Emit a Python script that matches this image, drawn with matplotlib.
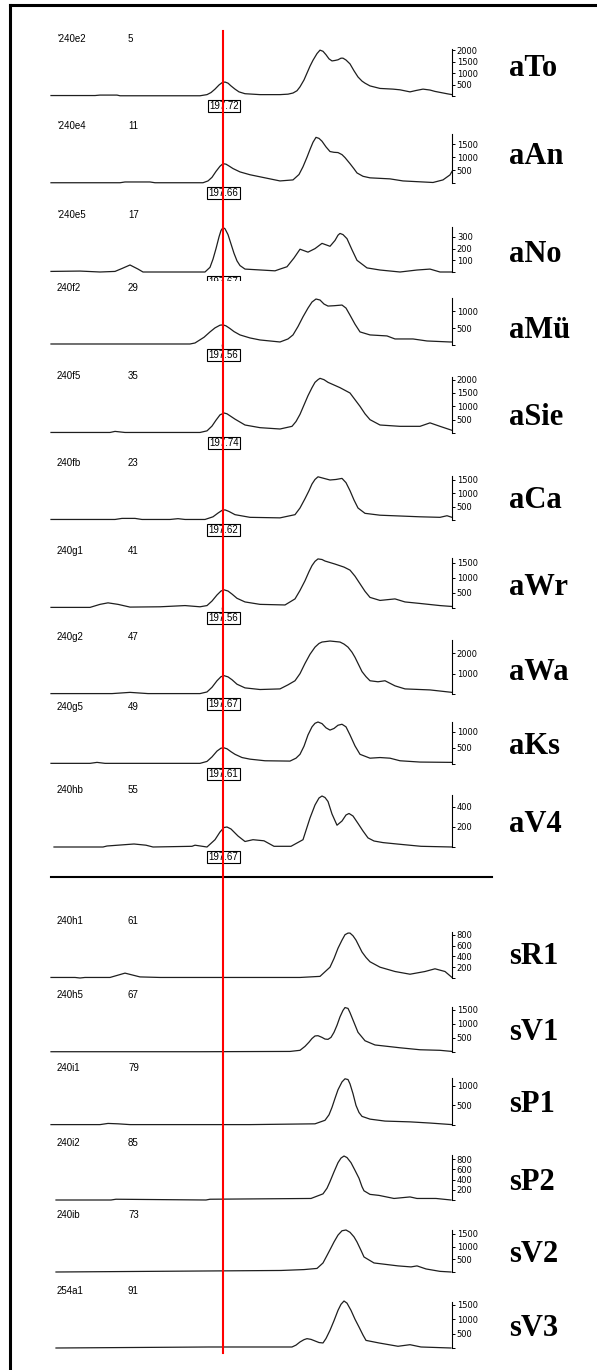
import matplotlib.pyplot as plt
from matplotlib.lines import Line2D
from matplotlib.transforms import Bbox, TransformedBbox

plt.rcParams['font.family'] = ['Liberation Sans', 'DejaVu Sans']

# --- data (x = fragment size in bp, y = signal) ---
names = ['aTo', 'aAn', 'aNo', 'aMü', 'aSie', 'aCa', 'aWr', 'aWa', 'aKs', 'aV4',
         'sR1', 'sV1', 'sP1', 'sP2', 'sV2', 'sV3']
samples = ["'240e2", "'240e4", "'240e5", '240f2', '240f5', '240fb', '240g1', '240g2',
           '240g5', '240hb', '240h1', '240h5', '240i1', '240i2', '240ib', '254a1']
lanes = ['5', '11', '17', '29', '35', '23', '41', '47', '49', '55',
         '61', '67', '79', '85', '73', '91']
peak_sizes = [197.72, 197.66, 197.67, 197.56, 197.74, 197.62, 197.56, 197.67, 197.61, 197.67,
              None, None, None, None, None, None]
marker_size = 197.67

y_max = [2050, 1900, 385, 1400, 2100, 1650, 1650, 2650, 1300, 520,
         850, 1600, 1200, 880, 1650, 1600]
y_ticks = [[500, 1000, 1500, 2000], [500, 1000, 1500], [100, 200, 300], [500, 1000],
           [500, 1000, 1500, 2000], [500, 1000, 1500], [500, 1000, 1500], [1000, 2000],
           [500, 1000], [200, 400], [200, 400, 600, 800], [500, 1000, 1500], [500, 1000],
           [200, 400, 600, 800], [500, 1000, 1500], [500, 1000, 1500]]

x_aTo = [154.75, 165.75, 167, 171.25, 172, 192, 193.75, 194.75, 195.75, 196.75, 197.5, 198.25, 199,
         199.75, 200.75, 201.75, 203.25, 207, 212, 214, 215.25, 216.25, 217, 218, 218.75, 219.5,
         220.25, 221.25, 222, 222.75, 223.5, 224.25, 225, 225.75, 226.5, 227.25, 227.75, 228.5,
         229.5, 230.5, 231.5, 232.5, 233.25, 234.5, 237, 240.25, 242, 244.5, 246, 247.75, 249.5,
         250.75, 254, 255]
y_aTo = [20, 20, 40, 40, 10, 10, 60, 150, 300, 480, 580, 610, 560, 440, 300, 180, 100, 60, 60, 80,
         130, 230, 400, 700, 1000, 1300, 1560, 1850, 2000, 1950, 1800, 1620, 1530, 1550, 1580, 1650,
         1650, 1570, 1400, 1100, 830, 650, 560, 440, 330, 300, 270, 180, 240, 300, 260, 200, 90, 60]

x_aAn = [154.75, 172, 173.25, 179.5, 180.75, 192.75, 194, 195, 196, 197, 197.75, 198.5, 199.25,
         200.25, 202, 204.5, 207, 212, 215.25, 216.75, 217.75, 218.75, 219.5, 220.25, 221, 221.75,
         222.5, 223.5, 224.5, 225.5, 226.5, 227.5, 228.25, 229.5, 230.5, 231.25, 232.75, 234.5,
         239.5, 242.75, 247.75, 250.25, 252.75, 254.5, 255]
y_aAn = [10, 10, 40, 40, 10, 10, 80, 220, 450, 650, 750, 730, 660, 560, 430, 320, 240, 80, 120,
         330, 630, 1000, 1300, 1580, 1770, 1730, 1620, 1400, 1220, 1190, 1180, 1100, 985, 750, 550,
         390, 260, 200, 160, 80, 40, 20, 120, 315, 450]

x_aNo = [154.75, 162, 167, 170.75, 172.5, 174.5, 176.5, 177.75, 193.25, 194.5, 195.25, 196,
         196.75, 197.25, 197.75, 198.25, 199, 199.75, 200.5, 201.25, 202, 203.25, 210.75, 212,
         213.75, 215.5, 217, 219, 220.75, 222.5, 224.5, 225.75, 226.5, 227, 227.75, 228.75, 230,
         231.25, 233.75, 237, 242, 246.25, 249.5, 252, 255]
y_aNo = [5, 8, 0, 5, 30, 60, 25, 0, 0, 40, 110, 200, 300, 355, 380, 370, 320, 240, 160, 95, 55,
         25, 10, 25, 45, 120, 195, 170, 200, 245, 220, 270, 315, 330, 320, 285, 190, 100, 35, 17,
         0, 17, 25, 0, 0]

x_aMu = [154.75, 189.5, 190.75, 193, 194.5, 195.75, 197, 197.75, 198.5, 199.5, 200.5, 202, 204.5,
         207, 212, 214, 215.25, 216.5, 217.75, 219, 220, 221, 222, 223, 224, 225.5, 227.5, 228.5,
         229.5, 230.75, 232, 234.5, 238.75, 240.75, 245.25, 248.75, 254.5, 255]
y_aMu = [30, 30, 60, 230, 390, 510, 590, 600, 570, 490, 400, 300, 210, 150, 90, 180, 300, 550, 840,
         1100, 1280, 1370, 1340, 1220, 1160, 1170, 1190, 1100, 890, 620, 390, 300, 270, 180, 180,
         120, 90, 90]

x_aSie = [154.75, 169.5, 170.75, 173.25, 192, 193.75, 195, 196, 197, 198, 198.75, 199.75, 200.75,
          203.25, 207, 212, 215, 216, 217, 218, 219, 220, 220.75, 221.5, 222, 223, 224, 225.5, 227,
          228.5, 229.5, 230.75, 232, 233.25, 234.5, 237, 242, 247, 249.5, 252, 255]
y_aSie = [20, 20, 60, 20, 20, 80, 260, 480, 680, 750, 720, 620, 520, 300, 200, 150, 250, 430, 700,
          1050, 1400, 1700, 1900, 2000, 2050, 2000, 1900, 1800, 1700, 1580, 1500, 1250, 1000, 720,
          500, 300, 250, 250, 380, 250, 100]

x_aCa = [154.75, 170.75, 172.5, 175.75, 177.5, 184.5, 186.5, 188.25, 193.25, 195.25, 196.5, 197.5,
         198.25, 199.25, 200.75, 204.5, 212, 215.75, 217, 218.25, 219.25, 220, 220.75, 221.5, 223,
         224.5, 226, 227.5, 228.5, 229.5, 230.5, 231.5, 233.25, 237, 247, 252, 253.75, 255]
y_aCa = [20, 20, 60, 60, 20, 20, 50, 20, 20, 120, 260, 360, 380, 320, 200, 100, 80, 200, 450, 800,
         1100, 1350, 1520, 1620, 1560, 1500, 1520, 1560, 1400, 1100, 750, 450, 250, 180, 120, 100,
         160, 100]

x_aWr = [154.75, 164.5, 167, 169, 171.5, 174.5, 182, 188.25, 192, 193.75, 195, 196.25, 197.25, 198,
         199, 200, 201.25, 203.25, 207, 213.25, 215.75, 217, 218.25, 219.25, 220, 220.75, 221.5,
         222.5, 223.25, 225.75, 228, 229.5, 230.75, 232, 233.25, 234.5, 237, 240.75, 243.25, 247,
         252, 255]
y_aWr = [20, 20, 120, 170, 120, 30, 40, 80, 40, 80, 230, 430, 560, 600, 560, 460, 320, 200, 120,
         100, 300, 580, 900, 1200, 1400, 1540, 1620, 1600, 1550, 1450, 1350, 1250, 1050, 800, 550,
         350, 250, 300, 200, 150, 80, 50]

x_aWa = [154.75, 170, 174.5, 179, 192, 193.75, 195, 196.25, 197.25, 198, 199, 200, 201.25, 203.25,
         207, 212, 214, 215.75, 217, 218.25, 219.5, 220.75, 221.75, 222.5, 224.5, 227, 228, 229,
         230, 230.75, 231.75, 232.5, 233.5, 234.5, 236.5, 238.25, 240.75, 243.25, 249.5, 255]
y_aWa = [20, 20, 80, 20, 20, 100, 330, 650, 850, 900, 840, 700, 480, 300, 220, 250, 450, 650, 1000,
         1500, 1950, 2300, 2480, 2550, 2600, 2550, 2450, 2300, 2050, 1800, 1400, 1100, 850, 650,
         600, 650, 400, 250, 200, 80]

x_aKs = [154.75, 164.5, 166.25, 168.25, 192, 193.75, 195, 196.25, 197.25, 198, 198.75, 199.75,
         200.75, 202.5, 204.5, 208.25, 214.5, 216, 217, 218, 219, 220, 220.75, 221.5, 222.5, 223.5,
         224.5, 225.5, 226.5, 227.5, 228.5, 229.5, 230.75, 232, 234.5, 237, 239.5, 242, 247, 255]
y_aKs = [20, 20, 50, 20, 20, 80, 220, 400, 490, 500, 470, 380, 300, 200, 150, 100, 90, 180, 300,
         550, 900, 1150, 1260, 1300, 1250, 1120, 1050, 1100, 1200, 1230, 1150, 900, 560, 300, 180,
         200, 180, 100, 60, 50]

x_aV4 = [155.5, 167.75, 168.75, 175.5, 178.5, 180.25, 190, 190.75, 193.75, 195.75, 197, 198,
         198.75, 199.75, 201.5, 203.25, 205.25, 208, 210.5, 214.75, 217.75, 219.5, 220.75, 221.75,
         222.5, 223.25, 224, 225, 226.25, 227.5, 228.5, 229.25, 230.25, 231.5, 232.75, 234, 235.5,
         237.75, 241.5, 247.25, 255]
y_aV4 = [0, 0, 10, 30, 18, 0, 7, 18, 0, 73, 150, 195, 200, 180, 110, 55, 73, 62, 7, 7, 73, 290,
         420, 490, 510, 495, 455, 330, 218, 260, 320, 335, 310, 236, 160, 91, 60, 44, 29, 7, 0]

x_sR1 = [154.75, 160.75, 162, 163.25, 169.5, 173.25, 177, 182, 192, 217, 222, 224.5, 225.5, 226.5,
         227.5, 228.25, 229, 229.5, 230.25, 231, 231.75, 232.5, 233.5, 234.5, 237, 240.75, 244.5,
         248.25, 250.75, 253.25, 255]
y_sR1 = [10, 10, 0, 10, 10, 90, 20, 10, 10, 10, 30, 200, 360, 550, 700, 800, 830, 830, 780, 700,
         590, 480, 380, 300, 200, 120, 70, 120, 170, 120, 10]

x_sV1 = [154.75, 192, 214.5, 217, 218.25, 219.25, 220, 220.75, 221.5, 222.5, 223.25, 224, 224.75,
         225.5, 226.25, 227, 227.75, 228.25, 229, 229.5, 230.5, 231.5, 233.25, 235.75, 242, 247,
         252, 255]
y_sV1 = [10, 10, 20, 60, 200, 350, 480, 570, 580, 520, 460, 450, 520, 700, 950, 1250, 1480, 1580,
         1550, 1400, 1050, 700, 400, 250, 150, 80, 60, 20]

x_sP1 = [154.75, 167, 169, 171.5, 174.5, 204.5, 220.75, 223.25, 224.25, 225, 225.75, 226.5, 227.5,
         228.25, 229, 229.5, 230.25, 231, 231.75, 232.5, 234.5, 238.25, 244.5, 249.5, 255]
y_sP1 = [10, 10, 40, 30, 10, 10, 30, 120, 260, 450, 680, 900, 1100, 1180, 1160, 1050, 800, 500,
         320, 220, 150, 100, 80, 50, 10]

x_sP2 = [156, 169.75, 171, 193.5, 194.5, 219.75, 222.75, 223.75, 224.5, 225.5, 226.5, 227.25, 228,
         228.75, 229.75, 230.75, 231.75, 232.5, 233, 234.5, 236.75, 240.5, 244.5, 246.25, 251,
         254.75]
y_sP2 = [0, 0, 15, 0, 15, 30, 120, 230, 360, 550, 730, 820, 860, 830, 730, 580, 425, 260, 180, 110,
         90, 30, 60, 30, 30, 0]

x_sV2 = [156, 212.25, 218, 221.25, 222.75, 223.75, 224.75, 225.5, 226.5, 227.5, 228.5, 229.5,
         230.5, 231.25, 232.25, 233, 235.5, 241.5, 244.75, 246.25, 248.5, 252, 254.75]
y_sV2 = [0, 60, 95, 140, 355, 650, 950, 1180, 1450, 1620, 1650, 1560, 1380, 1180, 850, 590, 355,
         240, 200, 240, 120, 25, 0]

x_sV3 = [156, 194.25, 215, 216, 217, 218, 218.75, 219.75, 220.75, 221.75, 222.75, 223.5, 224.5,
         225.5, 226.5, 227.25, 228, 228.75, 229.75, 230.75, 231.75, 232.75, 233.5, 236.75, 241.5,
         244.5, 247.25, 254.75]
y_sV3 = [0, 35, 35, 100, 210, 290, 325, 300, 245, 190, 175, 330, 615, 950, 1310, 1520, 1635, 1560,
         1310, 1000, 730, 450, 265, 175, 60, 115, 35, 0]

traces = [(x_aTo, y_aTo), (x_aAn, y_aAn), (x_aNo, y_aNo), (x_aMu, y_aMu), (x_aSie, y_aSie),
          (x_aCa, y_aCa), (x_aWr, y_aWr), (x_aWa, y_aWa), (x_aKs, y_aKs), (x_aV4, y_aV4),
          (x_sR1, y_sR1), (x_sV1, y_sV1), (x_sP1, y_sP1), (x_sP2, y_sP2), (x_sV2, y_sV2),
          (x_sV3, y_sV3)]

# --- layout in pixels ---
W, H = 597, 1370
left_px, width_px = 51, 401
baseline_px = [96, 183, 272, 345, 433, 520, 608, 694, 764, 847, 978, 1052, 1125, 1200, 1272, 1348]
height_px = [47, 49, 45, 47, 56, 44, 50, 54, 42, 52, 46, 45, 47, 45, 42, 46]
name_dy = [27, 26, 18, 15, 15, 20, 21, 21, 18, 22, 21, 20, 20, 18, 17, 20]

fig = plt.figure(figsize=(W / 100, H / 100), dpi=100, facecolor='w')

axes = []
for i, name in enumerate(names):
    b, h = baseline_px[i], height_px[i]
    ax = fig.add_axes([left_px / W, 1 - b / H, width_px / W, h / H])
    ax.patch.set_alpha(0)
    x, y = traces[i]
    ax.plot(x, y, color='#1e1e1e', lw=0.9, clip_on=False)
    ax.set_xlim(154.75, 255)
    ax.set_ylim(0, y_max[i])
    for s in ('top', 'left', 'bottom'):
        ax.spines[s].set_visible(False)
    ax.spines['right'].set_linewidth(0.8)
    ax.set_xticks([])
    ax.yaxis.tick_right()
    ax.set_yticks([0] + y_ticks[i])
    ax.set_yticklabels([''] + [str(t) for t in y_ticks[i]])
    ax.tick_params(axis='y', direction='out', length=2.5, width=0.7, pad=1,
                   labelsize=6, labelfontfamily='DejaVu Sans')

    ax.text(1.142, name_dy[i] / h, name, transform=ax.transAxes, ha='left', va='center',
            fontfamily='Liberation Serif', fontweight='bold', fontsize=22)
    ax.annotate(samples[i], xy=(0, 0), xycoords='axes fraction', xytext=(6, 57),
                textcoords='offset pixels', fontsize=7, va='center')
    ax.annotate(lanes[i], xy=(0, 0), xycoords='axes fraction', xytext=(77, 57),
                textcoords='offset pixels', fontsize=7, va='center')

    if peak_sizes[i] is not None:
        ann = ax.annotate('%.2f' % peak_sizes[i], xy=(peak_sizes[i], 0), xytext=(1, -10),
                          textcoords='offset pixels', ha='center', va='center', fontsize=7,
                          annotation_clip=False, zorder=5,
                          bbox=dict(boxstyle='square,pad=0.15', fc='w', ec='k', lw=0.8),
                          arrowprops=dict(arrowstyle='-', lw=0.8, color='k',
                                          shrinkA=0, shrinkB=0))
        if name == 'aNo':
            # label box is partly hidden by the next lane
            ann.set_clip_box(TransformedBbox(Bbox([[-0.2, -9 / h], [1.2, 2]]), ax.transAxes))
            ann.set_clip_on(True)
    axes.append(ax)

# red reference line at the marker size, through all lanes
xr = axes[0].transData.transform((marker_size, 0))[0] / fig.bbox.width
fig.add_artist(Line2D([xr, xr], [1 - 31 / H, 1 - 1353 / H], color='#ff0000', lw=1.5, zorder=10))

# divider between the a- and s-lanes and the page frame
fig.add_artist(Line2D([left_px / W, 492 / W], [1 - 877 / H] * 2, color='k', lw=1.5))
fig.add_artist(Line2D([10 / W, 10 / W], [0, 1 - 5 / H], color='k', lw=2.2))
fig.add_artist(Line2D([10 / W, 1], [1 - 5 / H] * 2, color='k', lw=2.2))

fig.savefig('out.png', dpi=100)
